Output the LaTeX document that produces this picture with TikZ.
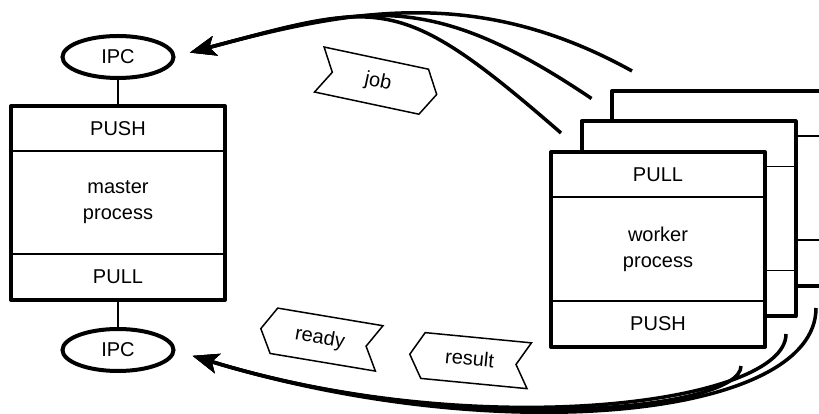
\documentclass[tikz,border=0pt]{standalone}
\usepackage{fontspec}
\setmainfont{Liberation Sans}
\usetikzlibrary{positioning}
\usetikzlibrary{shapes.geometric,shapes.symbols}
\usetikzlibrary{arrows.meta}
\tikzset{>=Stealth}
\tikzset{part/.style={draw,line width=1.5pt,fill=white,minimum width=214pt,inner sep=0pt,outer sep=0pt,align=center,font=\fontsize{20}{26}\selectfont}}
\tikzset{frame/.style={line width=4pt,line join=round}}
\tikzset{ipc/.style={ellipse,draw,line width=4pt,minimum width=111pt,minimum height=42pt,inner sep=0pt,outer sep=0pt,font=\fontsize{20}{24}\selectfont}}
\tikzset{msg/.style={shape=signal,draw,line width=1.5pt,fill=white,signal pointer angle=120,minimum width=120pt,minimum height=46pt,text height=15pt,text depth=4pt,inner xsep=0pt,inner ysep=13.5pt,font=\fontsize{20}{24}\selectfont}}
\tikzset{flow/.style={line width=3.5pt,-{Stealth[length=26pt,width=20pt,inset=6pt]}}}

\begin{document}
\begin{tikzpicture}[x=1pt,y=1pt]
                    \useasboundingbox (0,0) rectangle (819,414);

                    % master side
                    \node[ipc] (ipctop) at (118,357) {IPC};
                    \node[part,minimum height=45pt] (mpush) at (118,285.5) {PUSH};
                    \node[part,minimum height=103pt,below=0pt of mpush] (mbody) {master\\process};
                    \node[part,minimum height=46pt,below=0pt of mbody] (mpull) {PULL};
                    \draw[frame] (mpush.north west) rectangle (mpull.south east);
                    \node[ipc] (ipcbot) at (118,64) {IPC};
                    \draw[line width=2pt] (ipctop) -- (mpush);
                    \draw[line width=2pt] (mpull) -- (ipcbot);

                    % worker stack, back to front (only the front one is labelled)
                    \foreach \i in {2,1,0}{
                        \node[part,minimum height=45pt] (pull\i) at (658+30.5*\i,239.5+30.5*\i) {\ifnum\i=0 PULL\fi};
                        \node[part,minimum height=104pt,below=0pt of pull\i] (work\i) {\ifnum\i=0 worker\\process\fi};
                        \node[part,minimum height=46pt,below=0pt of work\i] (push\i) {\ifnum\i=0 PUSH\fi};
                        \draw[frame] (pull\i.north west) rectangle (push\i.south east);
                    }

                    % jobs going to the workers
                    \foreach \i/\dx/\dy/\ang/\lo in {0/10/19/139/1.4, 1/10/23/146/1.2, 2/20/20/151/1.0}
                        \draw[flow,shorten >=17pt] ([shift={(\dx,\dy)}]pull\i.north west) to[out=\ang,in=15,looseness=\lo] (ipctop.east);

                    % results coming back
                    \foreach \i/\dx/\dy/\od/\id in {0/-24/-19/45pt/300pt, 1/-9.5/-17.5/70pt/320pt, 2/-10/-22/110pt/340pt}
                        \draw[flow,shorten >=20pt] ([shift={(\dx,\dy)}]push\i.south east) to[out=-90,in=-17,out distance=\od,in distance=\id] (ipcbot.east);

                    % messages
                    \node[msg,signal to=east,signal from=west,rotate=-12] (job) at (378,332) {job};
                    \node[msg,signal to=west,signal from=east,rotate=-9.5] (ready) at (320,75.5) {ready};
                    \node[msg,signal to=west,signal from=east,rotate=-5.5] (result) at (469.5,54) {result};
                \end{tikzpicture}
\end{document}
